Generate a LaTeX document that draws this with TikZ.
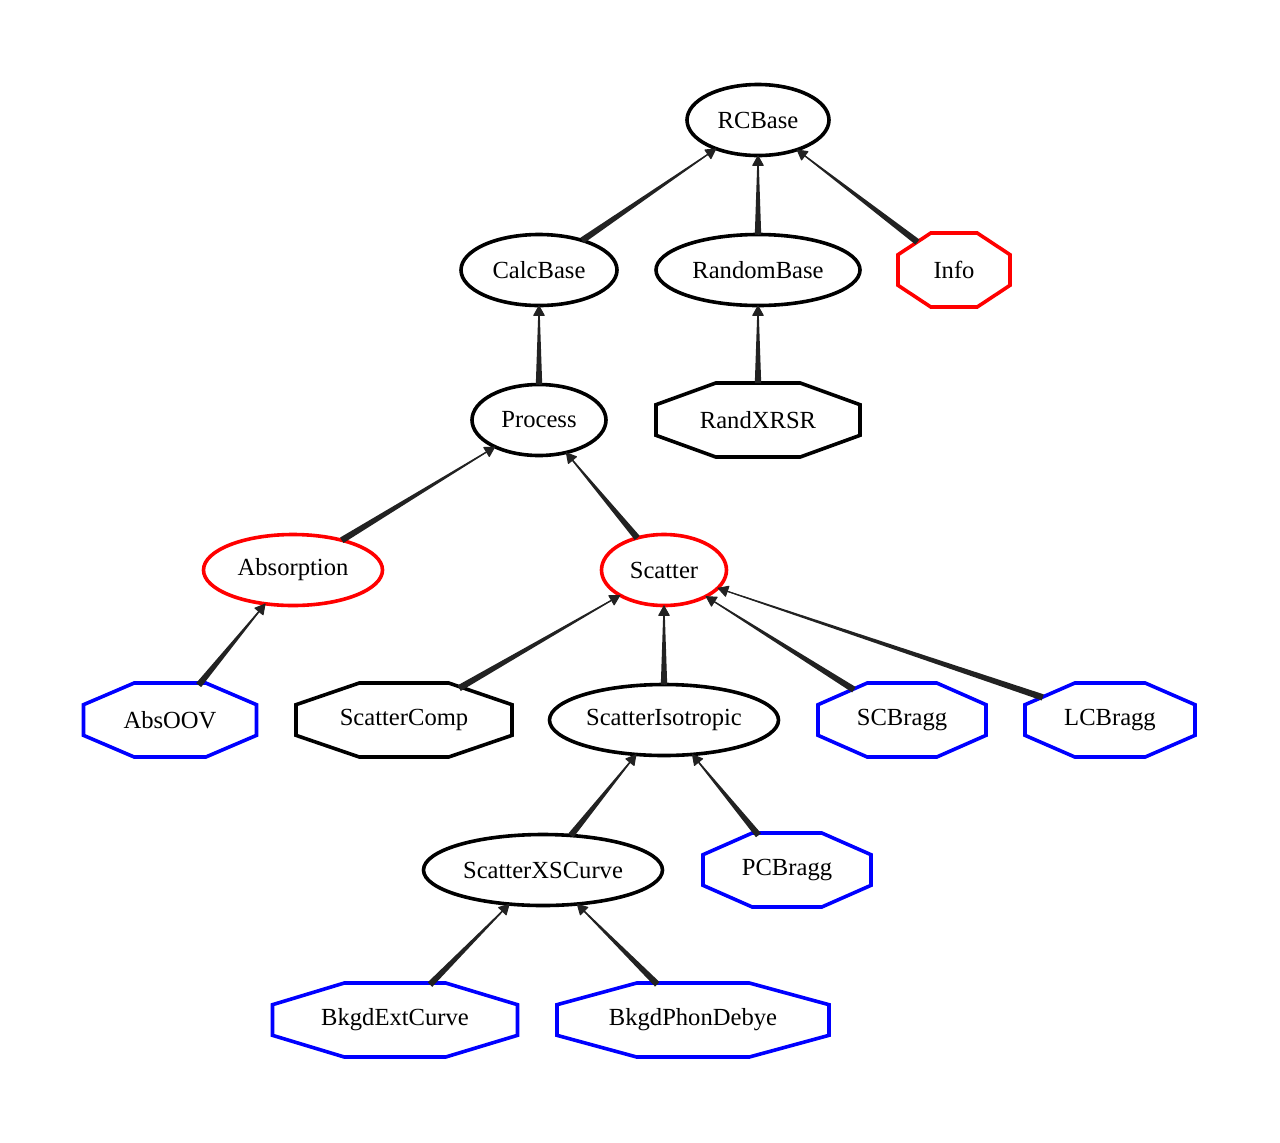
\documentclass[tikz,border=0pt]{standalone}
\usepackage{fontspec}
\setmainfont{Liberation Serif}
\usetikzlibrary{shapes.geometric,calc,arrows.meta}

\definecolor{trait}{HTML}{222222}

% octagon drawn round an (invisible) ellipse node
\newcommand{\octogone}[2]{%
\draw[#2, line width=1.8pt] ($(#1.north)!0.414!(#1.north -| #1.east)$) -- ($(#1.east)!0.414!(#1.north -| #1.east)$)
 -- ($(#1.east)!0.414!(#1.south -| #1.east)$) -- ($(#1.south)!0.414!(#1.south -| #1.east)$)
 -- ($(#1.south)!0.414!(#1.south -| #1.west)$) -- ($(#1.west)!0.414!(#1.south -| #1.west)$)
 -- ($(#1.west)!0.414!(#1.north -| #1.west)$) -- ($(#1.north)!0.414!(#1.north -| #1.west)$) -- cycle;}

% tapered edge from child to parent
\newcommand{\lien}[2]{%
\path (#1) -- (#2) coordinate[pos=0] (ea) coordinate[pos=1] (eb);
\fill[trait] ($(ea)!1.6pt!90:(eb)$) -- ($(eb)!0.25pt!-90:(ea)$) -- ($(eb)!0.25pt!90:(ea)$) -- ($(ea)!1.6pt!-90:(eb)$) -- cycle;
\draw[trait, line width=0.5pt, -{Triangle[round,length=5.5pt,width=6pt]}] (ea) -- (eb);}

\begin{document}
\begin{tikzpicture}[x = 0.5pt, y = -0.5pt,
  classe/.style = {ellipse, draw, line width=1.8pt, inner sep=0pt, outer sep=0pt, minimum height=35.5pt, font=\fontsize{12.3}{14}\selectfont},
  octo/.style = {ellipse, inner sep=0pt, outer sep=0pt, minimum height=37pt, font=\fontsize{12.3}{14}\selectfont},]

\useasboundingbox (0,0) rectangle (1280,1142);

\node[classe, minimum width=71pt] (RCBase) at (758,120) {RCBase};
\node[classe, minimum width=78pt] (CalcBase) at (539,270) {CalcBase};
\node[classe, minimum width=102pt] (RandomBase) at (758,270) {RandomBase};
\node[octo, minimum width=56pt] (Info) at (954,270) {Info};
\node[classe, minimum width=67pt] (Process) at (539,420) {Process};
\node[octo, minimum width=102pt] (RandXRSR) at (758,420) {RandXRSR};
\node[classe, red, text=black, minimum width=89.5pt] (Absorption) at (293,570) {Absorption};
\node[classe, red, text=black, minimum width=62.5pt] (Scatter) at (664,570) {Scatter};
\node[octo, minimum width=86.5pt] (AbsOOV) at (170,720) {AbsOOV};
\node[octo, minimum width=108pt] (ScatterComp) at (404,720) {ScatterComp};
\node[classe, minimum width=114.5pt] (ScatterIsotropic) at (664,720) {ScatterIsotropic};
\node[octo, minimum width=84pt] (SCBragg) at (902,720) {SCBragg};
\node[octo, minimum width=85pt] (LCBragg) at (1110,720) {LCBragg};
\node[classe, minimum width=119.5pt] (ScatterXSCurve) at (543,870) {ScatterXSCurve};
\node[octo, minimum width=84pt] (PCBragg) at (787,870) {PCBragg};
\node[octo, minimum width=122.5pt] (BkgdExtCurve) at (395,1020) {BkgdExtCurve};
\node[octo, minimum width=136pt] (BkgdPhonDebye) at (693,1020) {BkgdPhonDebye};

\octogone{Info}{red}
\octogone{RandXRSR}{black}
\octogone{AbsOOV}{blue}
\octogone{ScatterComp}{black}
\octogone{SCBragg}{blue}
\octogone{LCBragg}{blue}
\octogone{PCBragg}{blue}
\octogone{BkgdExtCurve}{blue}
\octogone{BkgdPhonDebye}{blue}

\lien{CalcBase}{RCBase}
\lien{RandomBase}{RCBase}
\lien{Info}{RCBase}
\lien{Process}{CalcBase}
\lien{RandXRSR}{RandomBase}
\lien{Absorption}{Process}
\lien{Scatter}{Process}
\lien{AbsOOV}{Absorption}
\lien{ScatterComp}{Scatter}
\lien{ScatterIsotropic}{Scatter}
\lien{SCBragg}{Scatter}
\lien{LCBragg}{Scatter}
\lien{ScatterXSCurve}{ScatterIsotropic}
\lien{PCBragg}{ScatterIsotropic}
\lien{BkgdExtCurve}{ScatterXSCurve}
\lien{BkgdPhonDebye}{ScatterXSCurve}

\end{tikzpicture}
\end{document}
